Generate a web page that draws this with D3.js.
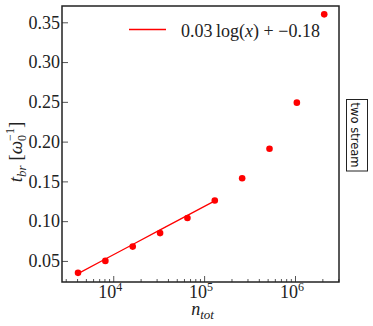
<!DOCTYPE html>
<html>
<head>
<meta charset="utf-8">
<script src="https://cdn.jsdelivr.net/npm/d3@7"></script>
</head>
<body style="margin:0">
<script>
// data
const nTot = [4096, 8192, 16384, 32768, 65536, 131072, 262144, 524288, 1048576, 2097152];
const tBr = [0.035, 0.050, 0.068, 0.085, 0.104, 0.126, 0.154, 0.191, 0.249, 0.360];
const fitCount = 6;          // first points used by the fit
const fitCoef = [0.0264, -0.1855];  // t = a*ln(n) + b
const yTicks = [0.05, 0.10, 0.15, 0.20, 0.25, 0.30, 0.35];
const xMajor = [1e4, 1e5, 1e6];
const legendLabel = ['0.03\u2009log(', 'x', ') + \u22120.18'];
const sideLabel = 'two stream';

const width = 373, height = 326;
const margin = {left: 62, top: 6, right: 34, bottom: 44};
const plotW = width - margin.left - margin.right;
const plotH = height - margin.top - margin.bottom;
const serif = "'Liberation Serif'";

const svg = d3.select('body').append('svg')
  .attr('width', width)
  .attr('height', height)
  .style('display', 'block');

const g = svg.append('g')
  .attr('transform', 'translate(' + margin.left + ',' + margin.top + ')');

const x = d3.scaleLog().domain([2730, 3.05e6]).range([0, plotW]);
const y = d3.scaleLinear().domain([0.0235, 0.3705]).range([plotH, 0]);

// x axis: major + minor ticks, inward
const xMinor = x.ticks().filter(v => xMajor.indexOf(v) < 0);
const xAxisMinor = d3.axisBottom(x).tickValues(xMinor).tickSize(-3).tickFormat('');
const xAxis = d3.axisBottom(x).tickValues(xMajor).tickSize(-6).tickFormat('');

g.append('g').attr('transform', 'translate(0,' + plotH + ')').call(xAxisMinor);
g.append('g').attr('transform', 'translate(0,' + plotH + ')').call(xAxis);
g.selectAll('.domain').remove();
g.selectAll('.tick line').attr('stroke', '#555').attr('stroke-width', 1);

// y axis
const yg = g.append('g').call(
  d3.axisLeft(y).tickValues(yTicks).tickSize(-6).tickFormat('')
);
yg.select('.domain').remove();
yg.selectAll('.tick line').attr('stroke', '#555');

// tick labels
g.selectAll('text.ylab')
  .data(yTicks)
  .enter().append('text')
  .attr('class', 'ylab')
  .attr('x', -2)
  .attr('y', d => y(d))
  .attr('dy', '0.35em')
  .attr('text-anchor', 'end')
  .attr('fill', '#222')
  .style('font-family', serif)
  .style('font-size', '18px')
  .text(d3.format('.2f'));

g.selectAll('text.xlab')
  .data(xMajor)
  .enter().append('text')
  .attr('class', 'xlab')
  .attr('x', d => x(d) - 3)
  .attr('y', plotH + 16)
  .attr('text-anchor', 'middle')
  .attr('fill', '#222')
  .style('font-family', serif)
  .style('font-size', '18px')
  .each(function(d) {
    const t = d3.select(this);
    t.append('tspan').text('10');
    t.append('tspan').attr('dy', -7).style('font-size', '12px').text(Math.round(Math.log10(d)));
  });

// frame
g.append('rect')
  .attr('width', plotW)
  .attr('height', plotH)
  .attr('fill', 'none')
  .attr('stroke', '#222')
  .attr('stroke-width', 1.5);

// fit line
const fitX = nTot.slice(0, fitCount);
const line = d3.line()
  .x(d => x(d))
  .y(d => y(fitCoef[0] * Math.log(d) + fitCoef[1]));
g.append('path')
  .datum(fitX)
  .attr('d', line)
  .attr('fill', 'none')
  .attr('stroke', '#ff0000')
  .attr('stroke-width', 1.3);

// points
g.selectAll('circle.pt')
  .data(nTot)
  .enter().append('circle')
  .attr('class', 'pt')
  .attr('cx', d => x(d))
  .attr('cy', (d, i) => y(tBr[i]))
  .attr('r', 3.3)
  .attr('fill', '#ff0000');

// legend
svg.append('line')
  .attr('x1', 129).attr('x2', 166)
  .attr('y1', 29.5).attr('y2', 29.5)
  .attr('stroke', '#ff0000')
  .attr('stroke-width', 1.3);
const lt = svg.append('text')
  .attr('x', 181).attr('y', 36.5)
  .attr('fill', '#222')
  .style('font-family', serif)
  .style('font-size', '18px');
lt.append('tspan').text(legendLabel[0]);
lt.append('tspan').style('font-style', 'italic').text(legendLabel[1]);
lt.append('tspan').text(legendLabel[2]);

// axis labels
const xl = svg.append('text')
  .attr('x', margin.left + plotW / 2 + 2)
  .attr('y', 315)
  .attr('text-anchor', 'middle')
  .attr('fill', '#222')
  .style('font-family', serif)
  .style('font-size', '18px');
xl.append('tspan').style('font-style', 'italic').text('n');
xl.append('tspan').attr('dy', 4).style('font-style', 'italic').style('font-size', '13px').text('tot');

const yl = svg.append('text')
  .attr('transform', 'translate(22,152) rotate(-90)')
  .attr('text-anchor', 'middle')
  .attr('fill', '#222')
  .style('font-family', serif)
  .style('font-size', '19px');
yl.append('tspan').style('font-style', 'italic').text('t');
yl.append('tspan').attr('dy', 4).style('font-style', 'italic').style('font-size', '13px').text('br');
yl.append('tspan').attr('dy', -4).text(' [');
yl.append('tspan').style('font-style', 'italic').text('\u03c9');
yl.append('tspan').attr('dy', 4).style('font-size', '12px').text('0');
yl.append('tspan').attr('dy', -12).attr('dx', -6).style('font-size', '12px').text('\u22121');
yl.append('tspan').attr('dy', 8).text(']');

// side box
svg.append('rect')
  .attr('x', 346.5).attr('y', 99.5)
  .attr('width', 21).attr('height', 71.5)
  .attr('fill', '#fff')
  .attr('stroke', '#222')
  .attr('stroke-width', 1);
svg.append('text')
  .attr('transform', 'translate(351,135) rotate(90)')
  .attr('text-anchor', 'middle')
  .attr('fill', '#111')
  .style('font-family', "'DejaVu Sans'")
  .style('font-size', '11.5px')
  .text(sideLabel);
</script>
</body>
</html>
